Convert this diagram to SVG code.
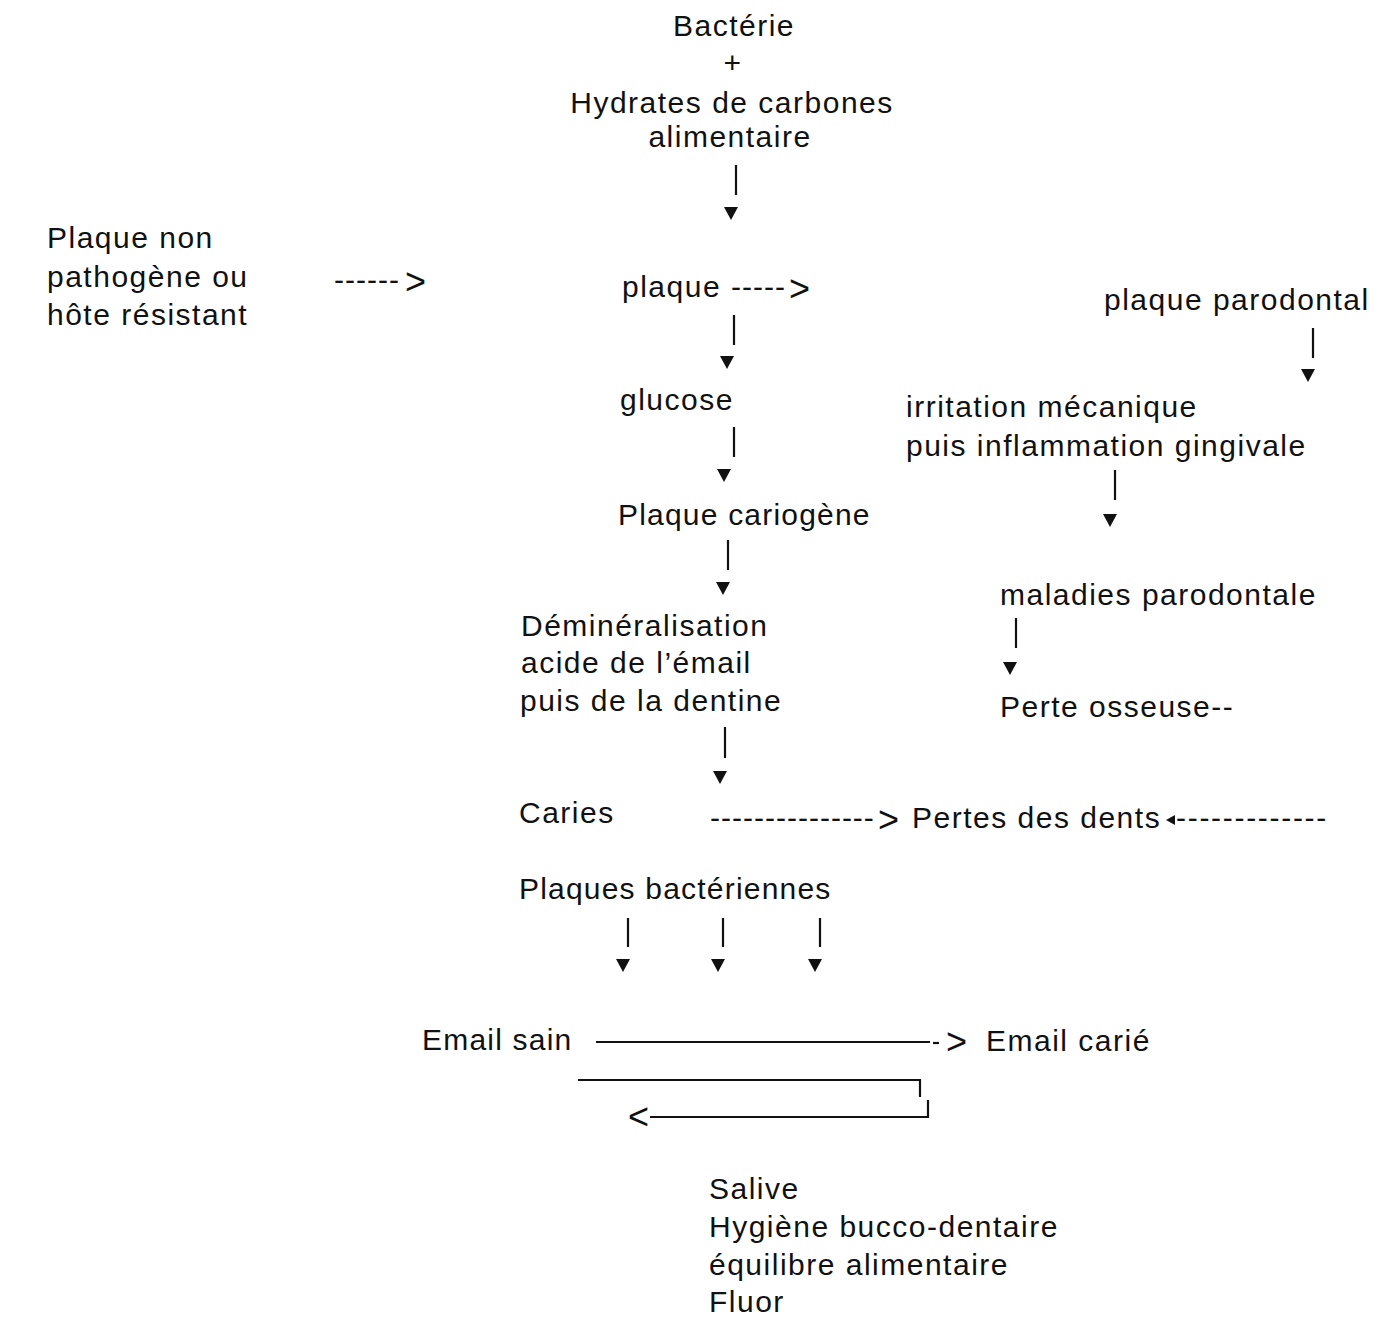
<svg xmlns="http://www.w3.org/2000/svg" width="1384" height="1322" viewBox="0 0 1384 1322">
<style>
text{font-family:"Liberation Sans","Arial",sans-serif;font-size:30px;letter-spacing:1.5px;fill:#111}
.c{text-anchor:middle}
.d{letter-spacing:1.0px}
.g{font-size:36px;letter-spacing:0}
.ln{stroke:#111;stroke-width:2.2;fill:none}
.tri{fill:#111}
</style>
<rect width="1384" height="1322" fill="#fff"/>
<g id="n-bacterie">
<text class="c" x="734" y="36">Bactérie</text>
<text class="c" x="733" y="73">+</text>
<text class="c" x="732" y="113">Hydrates de carbones</text>
<text class="c" x="730" y="147">alimentaire</text>
</g>
<g id="n-plaque-non"><text x="47" y="248">Plaque non</text><text x="47" y="287">pathogène ou</text><text x="47" y="325">hôte résistant</text></g>
<g id="n-plaque"><text x="622" y="297">plaque</text></g>
<g id="n-plaque-parodontal"><text x="1104" y="310">plaque parodontal</text></g>
<g id="n-glucose"><text x="620" y="410">glucose</text></g>
<g id="n-irritation"><text x="906" y="417">irritation mécanique</text><text x="906" y="456">puis inflammation gingivale</text></g>
<g id="n-cariogene"><text x="618" y="525" style="letter-spacing:1.2px">Plaque cariogène</text></g>
<g id="n-demin"><text x="521" y="636">Déminéralisation</text><text x="521" y="673">acide de l’émail</text><text x="520" y="711">puis de la dentine</text></g>
<g id="n-maladies"><text x="1000" y="605">maladies parodontale</text></g>
<g id="n-perte-osseuse"><text x="1000" y="717">Perte osseuse--</text></g>
<g id="n-caries"><text x="519" y="823">Caries</text></g>
<g id="n-pertes-dents"><text x="912" y="828">Pertes des dents</text></g>
<g id="n-plaques-bact"><text x="519" y="899" style="letter-spacing:1.2px">Plaques bactériennes</text></g>
<g id="n-email-sain"><text x="422" y="1050" style="letter-spacing:1.2px">Email sain</text></g>
<g id="n-email-carie"><text x="986" y="1051">Email carié</text></g>
<g id="n-facteurs"><text x="709" y="1199">Salive</text><text x="709" y="1237">Hygiène bucco-dentaire</text><text x="709" y="1275">équilibre alimentaire</text><text x="709" y="1312">Fluor</text></g>
<g id="connectors">
<line class="ln" x1="736" y1="165" x2="736" y2="195"/><polygon class="tri" points="724,207 738,207 731,220"/>
<line class="ln" x1="734" y1="315" x2="734" y2="345"/><polygon class="tri" points="720,356 734,356 727,369"/>
<line class="ln" x1="734" y1="427" x2="734" y2="457"/><polygon class="tri" points="717,469 731,469 724,482"/>
<line class="ln" x1="728" y1="540" x2="728" y2="570"/><polygon class="tri" points="716,582 730,582 723,595"/>
<line class="ln" x1="725" y1="727" x2="725" y2="758"/><polygon class="tri" points="713,771 727,771 720,784"/>
<line class="ln" x1="1313" y1="328" x2="1313" y2="358"/><polygon class="tri" points="1301,369 1315,369 1308,382"/>
<line class="ln" x1="1115" y1="470" x2="1115" y2="500"/><polygon class="tri" points="1103,514 1117,514 1110,527"/>
<line class="ln" x1="1016" y1="618" x2="1016" y2="648"/><polygon class="tri" points="1003,662 1017,662 1010,675"/>
<line class="ln" x1="628" y1="918" x2="628" y2="947"/><polygon class="tri" points="616,959 630,959 623,972"/>
<line class="ln" x1="723" y1="918" x2="723" y2="947"/><polygon class="tri" points="711,959 725,959 718,972"/>
<line class="ln" x1="820" y1="918" x2="820" y2="947"/><polygon class="tri" points="808,959 822,959 815,972"/>
<text class="d" x="334" y="290">------</text><text class="g" x="405" y="294">&gt;</text>
<text class="d" x="731" y="297">-----</text><text class="g" x="789" y="301">&gt;</text>
<text class="d" x="710" y="828">---------------</text><text class="g" x="878" y="832">&gt;</text>
<polygon class="tri" points="1166,820 1175,815 1175,825"/>
<text x="1176" y="828" style="letter-spacing:1.7px">-------------</text>
<line class="ln" x1="596" y1="1042" x2="930" y2="1042"/>
<line class="ln" x1="933" y1="1043" x2="939" y2="1043"/>
<text class="g" x="946" y="1054">&gt;</text>
<polyline class="ln" points="578,1080 920,1080 920,1097"/>
<polyline class="ln" points="928,1100 928,1117 650,1117"/>
<text class="g" x="628" y="1129">&lt;</text>
</g>
</svg>
